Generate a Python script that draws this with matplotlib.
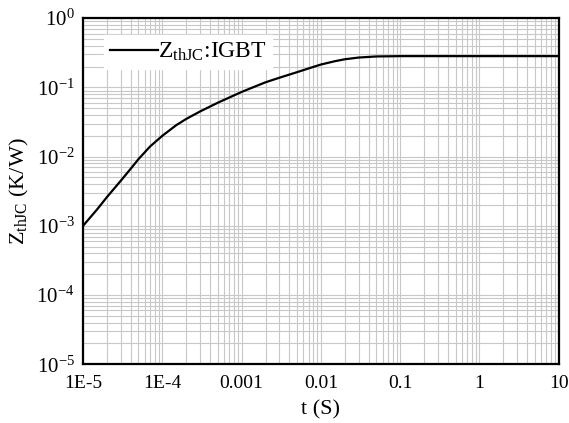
import numpy as np
import matplotlib
matplotlib.use("Agg")
import matplotlib.pyplot as plt
from matplotlib.ticker import LogLocator, FixedLocator, FixedFormatter, NullFormatter

plt.rcParams['font.family'] = ['Liberation Serif', 'DejaVu Serif']
plt.rcParams['mathtext.fontset'] = 'custom'
plt.rcParams['mathtext.rm'] = 'Liberation Serif'
plt.rcParams['mathtext.it'] = 'Liberation Serif:italic'

t = [1e-5, 1.5e-5, 2e-5, 3e-5, 4e-5, 5e-5, 7e-5, 1e-4, 1.5e-4, 2e-4, 3e-4, 5e-4,
     1e-3, 2e-3, 3e-3, 5e-3, 7e-3, 1e-2, 1.5e-2, 2e-2, 3e-2, 5e-2, 0.1, 1, 10]
z = [1.0e-3, 1.72e-3, 2.6e-3, 4.5e-3, 6.7e-3, 9.2e-3, 1.4e-2, 2.0e-2, 2.85e-2,
     3.5e-2, 4.5e-2, 6.0e-2, 8.6e-2, 0.1185, 0.138, 0.166, 0.188, 0.214, 0.239,
     0.255, 0.270, 0.280, 0.283, 0.283, 0.283]

xticks = [1e-5, 1e-4, 1e-3, 1e-2, 1e-1, 1, 10]
xlabels = ['1E-5', '1E-4', '0.001', '0.01', '0.1', '1', '10']
yticks = [1e-5, 1e-4, 1e-3, 1e-2, 1e-1, 1]
ylabels = [r'$10^{-5}$', r'$10^{-4}$', r'$10^{-3}$', r'$10^{-2}$', r'$10^{-1}$', r'$10^{0}$']

fig = plt.figure(figsize=(5.69, 4.23), dpi=100)
ax = fig.add_axes([0.146, 0.139, 0.836, 0.818])

ax.plot(t, z, color='black', lw=1.6, label=r'Z$_{\mathrm{thJC}}$:IGBT')

ax.set_xscale('log')
ax.set_yscale('log')
ax.set_xlim(1e-5, 10)
ax.set_ylim(1e-5, 1)

ax.xaxis.set_major_locator(FixedLocator(xticks))
ax.xaxis.set_major_formatter(FixedFormatter(xlabels))
ax.yaxis.set_major_locator(FixedLocator(yticks))
ax.yaxis.set_major_formatter(FixedFormatter(ylabels))
ax.xaxis.set_minor_locator(LogLocator(base=10, subs=np.arange(2, 10), numticks=20))
ax.yaxis.set_minor_locator(LogLocator(base=10, subs=np.arange(2, 10), numticks=20))
ax.xaxis.set_minor_formatter(NullFormatter())
ax.yaxis.set_minor_formatter(NullFormatter())

ax.grid(True, which='both', color='#c8c8c8', lw=0.8)
ax.set_axisbelow(True)
ax.tick_params(which='both', length=0)
ax.tick_params(axis='x', labelsize=14, pad=8)
ax.tick_params(axis='y', labelsize=15, pad=6)

for s in ax.spines.values():
    s.set_linewidth(1.6)

ax.set_xlabel('t (S)', fontsize=16, labelpad=6)
ax.set_ylabel(r'Z$_{\mathrm{thJC}}$ (K/W)', fontsize=16, labelpad=4)

leg = ax.legend(loc='upper left', fontsize=17, frameon=True, fancybox=False,
                edgecolor='white', framealpha=1, handlelength=2.0,
                handletextpad=0.0, borderpad=0.25, bbox_to_anchor=(0.02, 0.985))

fig.savefig('out.png', dpi=100)
